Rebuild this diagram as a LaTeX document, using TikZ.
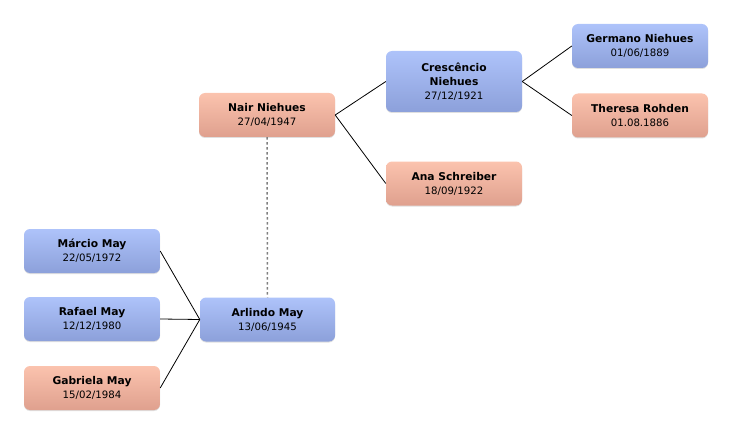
\documentclass[tikz,border=0pt]{standalone}
\usepackage{fontspec}
\setmainfont{DejaVu Sans}
\usetikzlibrary{shadows}
\definecolor{bluetop}{HTML}{AEC3FA}
\definecolor{bluebot}{HTML}{8CA0DA}
\definecolor{pinktop}{HTML}{FBC3AE}
\definecolor{pinkbot}{HTML}{DFA08E}
\definecolor{edgegray}{HTML}{808080}
\tikzset{
  person/.style={rounded corners=6pt, minimum width=136pt, minimum height=44pt,
    inner sep=0pt, align=center, font=\fontsize{10.2}{14}\selectfont,
    drop shadow={shadow xshift=0pt, shadow yshift=-1pt, opacity=0.25}},
  male/.style={person, top color=bluetop, bottom color=bluebot},
  female/.style={person, top color=pinktop, bottom color=pinkbot},
  link/.style={draw=black, line width=0.8pt},
  marriage/.style={draw=edgegray, line width=1.5pt, dash pattern=on 2.5pt off 2.5pt}
}
\newcommand{\pname}[1]{{\bfseries\fontsize{10.7}{14}\selectfont #1}}
\begin{document}
\begin{tikzpicture}[x=1pt,y=-1pt]
\useasboundingbox (0,0) rectangle (732,436);
\node[female] (nair) at (267,115) {\pname{Nair Niehues}\\27/04/1947};
\node[male, minimum height=61pt] (cres) at (454,81.5) {\pname{Crescêncio}\\\pname{Niehues}\\27/12/1921};
\node[female] (ana) at (454,183.5) {\pname{Ana Schreiber}\\18/09/1922};
\node[male] (germ) at (640,46) {\pname{Germano Niehues}\\01/06/1889};
\node[female] (ther) at (640,115.5) {\pname{Theresa Rohden}\\01.08.1886};
\node[male] (marc) at (92,251) {\pname{Márcio May}\\22/05/1972};
\node[male] (raf) at (92,319) {\pname{Rafael May}\\12/12/1980};
\node[female] (gab) at (92,388) {\pname{Gabriela May}\\15/02/1984};
\node[male, minimum width=135pt] (arl) at (267.5,319.5) {\pname{Arlindo May}\\13/06/1945};
\draw[marriage] (nair.south) -- (arl.north);
\draw[link] (nair.east) -- (cres.west);
\draw[link] (nair.east) -- (ana.west);
\draw[link] (cres.east) -- (germ.west);
\draw[link] (cres.east) -- (ther.west);
\draw[link] (marc.east) -- (arl.west);
\draw[link] (raf.east) -- (arl.west);
\draw[link] (gab.east) -- (arl.west);
\end{tikzpicture}
\end{document}
